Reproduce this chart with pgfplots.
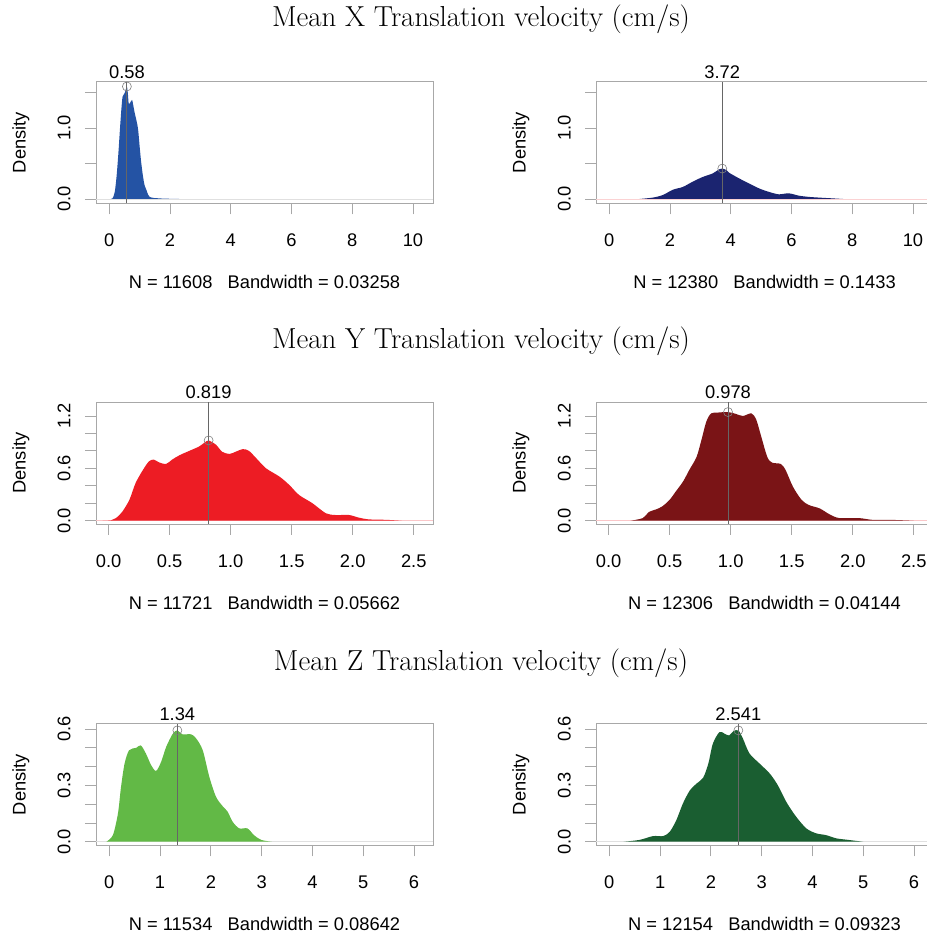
\documentclass[border=0pt]{standalone}
\usepackage{fontspec}
\usepackage{pgfplots}
\pgfplotsset{compat=1.18}
\newfontfamily\arial{Liberation Sans}
\definecolor{c1}{HTML}{2453A4}
\definecolor{c2}{HTML}{1B2470}
\definecolor{c3}{HTML}{ED1C24}
\definecolor{c4}{HTML}{7A1416}
\definecolor{c5}{HTML}{62B946}
\definecolor{c6}{HTML}{1A5E31}
\definecolor{axgray}{HTML}{A8A8A8}
\pgfplotsset{
  panel/.style={
    scale only axis, width=337pt, height=121.7pt, anchor=south west,
    axis line style={axgray, line width=0.8pt},
    tick style={axgray, line width=0.8pt},
    tick align=outside, major tick length=11pt,
    xtick pos=bottom, ytick pos=left, minor tick num=0,
    ticklabel style={font=\arial\fontsize{18.3}{20}\selectfont, text=black},
    xticklabel style={anchor=base, yshift=-32.4pt},
    yticklabel style={xshift=-14.5pt, rotate=90, anchor=base},
    /pgf/number format/assume math mode=true,
    clip=false,
  },
  row1/.style={xmin=-0.4375, xmax=10.66, ymin=-0.061, ymax=1.659,
    xtick={0,2,4,6,8,10}, xticklabels={0,2,4,6,8,10},
    ytick={0,0.5,1,1.5}, yticklabels={0.0,{},1.0,{}}},
  row2/.style={xmin=-0.104, xmax=2.658, ymin=-0.038, ymax=1.357,
    xtick={0,0.5,1,1.5,2,2.5}, xticklabels={0.0,0.5,1.0,1.5,2.0,2.5},
    ytick={0,0.2,0.4,0.6,0.8,1.0,1.2}, yticklabels={0.0,{},{},0.6,{},{},1.2}},
  row3/.style={xmin=-0.262, xmax=6.374, ymin=-0.019, ymax=0.629,
    xtick={0,1,2,3,4,5,6}, xticklabels={0,1,2,3,4,5,6},
    ytick={0,0.1,0.2,0.3,0.4,0.5,0.6}, yticklabels={0.0,{},{},0.3,{},{},0.6}},
  dens/.style={fill=#1, draw=none, smooth, tension=0.5},
  vline/.style={black!60, line width=0.8pt},
  peak/.style={only marks, mark=o, mark size=4.5pt, gray, mark options={line width=0.6pt}},
}
\newcommand{\annot}[2]{\node[anchor=base, font=\arial\fontsize{18.3}{20}\selectfont, yshift=3.3pt] at (axis cs:#1,\pgfkeysvalueof{/pgfplots/ymax}) {#2};}
\begin{document}
\begin{tikzpicture}
\useasboundingbox (0pt,0pt) rectangle (927pt,938pt);
\clip (0pt,0pt) rectangle (927pt,938pt);
\tikzset{ttl/.style={anchor=base, font=\fontsize{28.9}{32}\selectfont},
  nlab/.style={anchor=base, font=\arial\fontsize{18.3}{20}\selectfont},
  dlab/.style={anchor=base, rotate=90, font=\arial\fontsize{18.3}{20}\selectfont}}
% titles
\node[ttl] at (481pt,911pt) {Mean X Translation velocity (cm/s)};
\node[ttl] at (481pt,589pt) {Mean Y Translation velocity (cm/s)};
\node[ttl] at (481pt,267pt) {Mean Z Translation velocity (cm/s)};
% Density labels
\node[dlab] at (25.5pt,795.5pt) {Density};
\node[dlab] at (525.5pt,795.5pt) {Density};
\node[dlab] at (25.5pt,474.9pt) {Density};
\node[dlab] at (525.5pt,474.9pt) {Density};
\node[dlab] at (25.5pt,153.5pt) {Density};
\node[dlab] at (525.5pt,153.5pt) {Density};
% N labels
\node[nlab] at (264.5pt,649.2pt) {N = 11608\ \ \ Bandwidth = 0.03258};
\node[nlab] at (764.5pt,649.2pt) {N = 12380\ \ \ Bandwidth = 0.1433};
\node[nlab] at (264.5pt,328.5pt) {N = 11721\ \ \ Bandwidth = 0.05662};
\node[nlab] at (764.5pt,328.5pt) {N = 12306\ \ \ Bandwidth = 0.04144};
\node[nlab] at (264.5pt,7.2pt) {N = 11534\ \ \ Bandwidth = 0.08642};
\node[nlab] at (764.5pt,7.2pt) {N = 12154\ \ \ Bandwidth = 0.09323};

% Panel 1
\begin{axis}[panel, row1, at={(96pt,734.7pt)}]
\addplot[draw=black!12, line width=0.8pt] coordinates {(-0.4375,0) (10.66,0)};
\addplot[dens=c1] coordinates {(0.05,0) (0.11,0.01) (0.18,0.10) (0.24,0.32) (0.30,0.65) (0.35,0.98) (0.40,1.28) (0.44,1.45) (0.51,1.50) (0.55,1.56) (0.58,1.59) (0.61,1.50) (0.64,1.35) (0.69,1.36) (0.75,1.40) (0.80,1.30) (0.84,1.21) (0.90,1.10) (0.95,0.98) (1.00,0.74) (1.05,0.52) (1.11,0.32) (1.16,0.20) (1.22,0.13) (1.28,0.06) (1.33,0.03) (1.45,0.015) (1.6,0.01) (1.8,0.005) (2.3,0)} \closedcycle;
\addplot[vline] coordinates {(0.58,-0.061) (0.58,1.659)};
\addplot[peak] coordinates {(0.58,1.59)};
\annot{0.58}{0.58}
\end{axis}
% Panel 2
\begin{axis}[panel, row1, at={(596pt,734.7pt)}]
\addplot[draw=c3!20, line width=0.8pt] coordinates {(-0.4375,0) (10.66,0)};
\addplot[dens=c2] coordinates {(1.0,0) (1.44,0.02) (1.77,0.057) (2.09,0.13) (2.42,0.17) (2.75,0.245) (3.07,0.31) (3.40,0.36) (3.62,0.42) (3.72,0.43) (3.85,0.41) (3.95,0.37) (4.28,0.29) (4.60,0.22) (4.93,0.15) (5.26,0.10) (5.58,0.066) (5.91,0.08) (6.24,0.047) (6.56,0.03) (6.89,0.02) (7.3,0.01) (7.7,0)} \closedcycle;
\addplot[vline] coordinates {(3.72,-0.061) (3.72,1.659)};
\addplot[peak] coordinates {(3.72,0.43)};
\annot{3.72}{3.72}
\end{axis}
% Panel 3
\begin{axis}[panel, row2, at={(96pt,414pt)}]
\addplot[draw=c3!25, line width=0.8pt] coordinates {(-0.104,0) (2.658,0)};
\addplot[dens=c3] coordinates {(-0.05,0) (0.02,0.005) (0.06,0.03) (0.11,0.10) (0.17,0.24) (0.22,0.43) (0.28,0.58) (0.33,0.68) (0.37,0.70) (0.41,0.67) (0.47,0.65) (0.52,0.70) (0.58,0.75) (0.66,0.80) (0.74,0.85) (0.80,0.91) (0.82,0.92) (0.88,0.87) (0.93,0.79) (0.99,0.765) (1.04,0.79) (1.10,0.82) (1.15,0.80) (1.21,0.715) (1.29,0.60) (1.40,0.505) (1.48,0.41) (1.56,0.295) (1.67,0.20) (1.78,0.085) (1.86,0.065) (1.97,0.065) (2.05,0.035) (2.13,0.015) (2.27,0.01) (2.4,0)} \closedcycle;
\addplot[vline] coordinates {(0.819,-0.038) (0.819,1.357)};
\addplot[peak] coordinates {(0.819,0.92)};
\annot{0.819}{0.819}
\end{axis}
% Panel 4
\begin{axis}[panel, row2, at={(596pt,414pt)}]
\addplot[draw=c3!25, line width=0.8pt] coordinates {(-0.104,0) (2.658,0)};
\addplot[dens=c4] coordinates {(0.18,0) (0.28,0.03) (0.33,0.10) (0.39,0.13) (0.44,0.165) (0.50,0.24) (0.55,0.335) (0.61,0.45) (0.66,0.58) (0.72,0.73) (0.76,0.925) (0.80,1.135) (0.84,1.23) (0.90,1.24) (0.978,1.245) (1.04,1.225) (1.10,1.20) (1.17,1.23) (1.21,1.155) (1.25,0.965) (1.30,0.73) (1.34,0.665) (1.41,0.65) (1.45,0.58) (1.51,0.39) (1.58,0.24) (1.64,0.18) (1.73,0.14) (1.81,0.073) (1.89,0.03) (2.05,0.03) (2.16,0.01) (2.3,0.01) (2.5,0)} \closedcycle;
\addplot[vline] coordinates {(0.978,-0.038) (0.978,1.357)};
\addplot[peak] coordinates {(0.978,1.245)};
\annot{0.978}{0.978}
\end{axis}
% Panel 5
\begin{axis}[panel, row3, at={(96pt,92.7pt)}]
\addplot[draw=black!12, line width=0.8pt] coordinates {(-0.262,0) (6.374,0)};
\addplot[dens=c5] coordinates {(-0.06,0) (0.07,0.035) (0.17,0.15) (0.23,0.29) (0.30,0.415) (0.39,0.487) (0.53,0.50) (0.62,0.513) (0.72,0.47) (0.82,0.41) (0.92,0.377) (1.02,0.425) (1.12,0.505) (1.25,0.575) (1.34,0.593) (1.44,0.572) (1.61,0.572) (1.71,0.55) (1.84,0.487) (1.97,0.345) (2.10,0.24) (2.23,0.19) (2.33,0.16) (2.43,0.106) (2.56,0.071) (2.72,0.071) (2.85,0.035) (2.99,0.01) (3.2,0)} \closedcycle;
\addplot[vline] coordinates {(1.34,-0.019) (1.34,0.629)};
\addplot[peak] coordinates {(1.34,0.593)};
\annot{1.34}{1.34}
\end{axis}
% Panel 6
\begin{axis}[panel, row3, at={(596pt,92.7pt)}]
\addplot[draw=black!12, line width=0.8pt] coordinates {(-0.262,0) (6.374,0)};
\addplot[dens=c6] coordinates {(0.28,0) (0.60,0.01) (0.86,0.03) (1.06,0.03) (1.19,0.053) (1.32,0.115) (1.45,0.204) (1.59,0.275) (1.72,0.31) (1.85,0.342) (1.95,0.416) (2.04,0.523) (2.17,0.584) (2.27,0.575) (2.36,0.566) (2.44,0.588) (2.541,0.593) (2.63,0.55) (2.76,0.47) (2.96,0.416) (3.16,0.363) (3.32,0.30) (3.49,0.21) (3.68,0.133) (3.88,0.071) (4.07,0.045) (4.27,0.035) (4.47,0.018) (4.7,0.01) (5.0,0)} \closedcycle;
\addplot[vline] coordinates {(2.541,-0.019) (2.541,0.629)};
\addplot[peak] coordinates {(2.541,0.593)};
\annot{2.541}{2.541}
\end{axis}
\end{tikzpicture}
\end{document}
